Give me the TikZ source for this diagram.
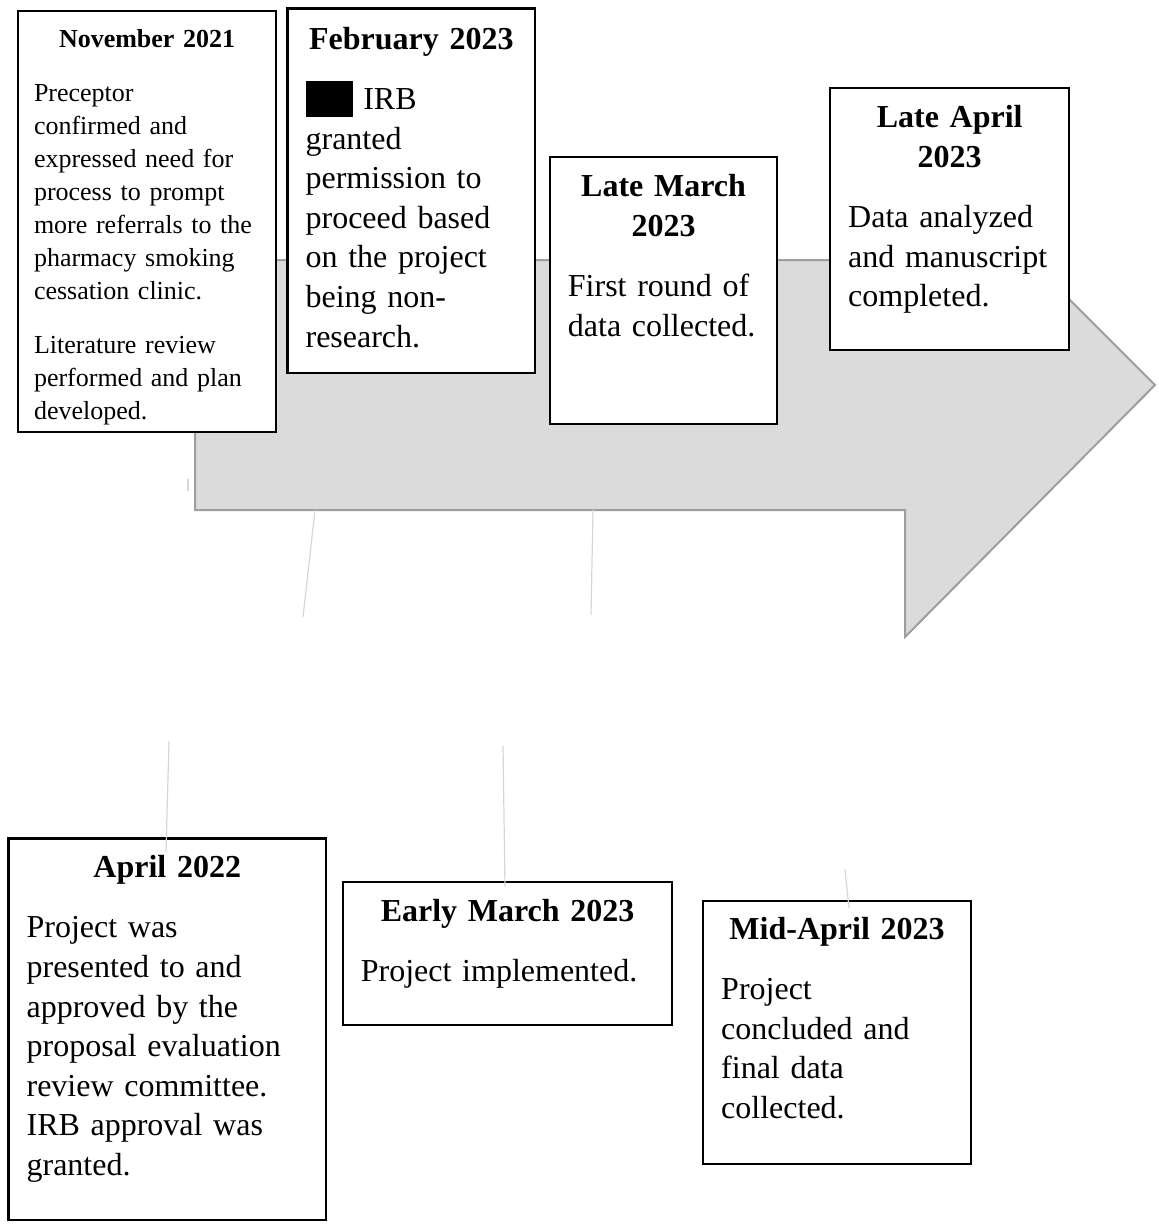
\documentclass[tikz,border=0pt]{standalone}
\usepackage{fontspec}
\setmainfont{Liberation Serif}
\usetikzlibrary{positioning}

\begin{document}
\begin{tikzpicture}[
    x=0.5pt,
    y=-0.5pt,
    font=\fontsize{16}{19.8}\selectfont,
    event/.style={draw=black, line width=1.2pt, fill=white, anchor=north west,
        inner xsep=9pt, inner ysep=0pt, align=left},
    faint/.style={draw=faintline, line width=0.6pt}
]

\colorlet{arrowfill}{black!14}
\colorlet{arrowline}{black!38}
\colorlet{faintline}{black!16}

\useasboundingbox (0,0) rectangle (1159,1226);

% Timeline arrow sits behind all the event boxes.
\draw[fill=arrowfill, draw=arrowline, line width=1pt]
    (195,260) -- (905,260) -- (905,135) -- (1155,385) --
    (905,637) -- (905,510) -- (195,510) -- cycle;

% Loose guide lines below the arrow.
\coordinate (tickA) at (188,479);
\coordinate (tickB) at (188,491);
\coordinate (gapA1) at (315,510);
\coordinate (gapA2) at (303,617);
\coordinate (gapB1) at (593,510);
\coordinate (gapB2) at (591,615);
\foreach \from/\to in {tickA/tickB, gapA1/gapA2, gapB1/gapB2}
    \draw[faint] (\from) -- (\to);

% Events above the arrow.
\node[event, inner xsep=8pt, text width=113.1pt, text height=18.35pt, text depth=192.15pt,
      font=\fontsize{13}{16.5}\selectfont] (nov21) at (16.8,10)
    {{\centering\bfseries November 2021\par}\vspace{10.15pt}
     Preceptor\\ confirmed and\\ expressed need for\\ process to prompt\\
     more referrals to the\\ pharmacy smoking\\ cessation clinic.\par\vspace{10.8pt}
     Literature review\\ performed and plan\\ developed.};

\node[event, text width=105.8pt, text height=20.5pt, text depth=161.85pt] (feb23) at (286.4,7.3)
    {{\centering\bfseries February 2023\par}\vspace{10.2pt}
     \rule[-3.7pt]{23.5pt}{18.2pt} IRB\\ granted\\ permission to\\ proceed based\\
     on the project\\ being non-\\ research.};

\node[event, text width=95.65pt, text height=20pt, text depth=113.65pt] (latemar23) at (548.7,155.7)
    {{\centering\bfseries Late March\\ 2023\par}\vspace{10.2pt}
     First round of\\ data collected.};

\node[event, text width=101.5pt, text height=20pt, text depth=111.15pt] (lateapr23) at (829,86.7)
    {{\centering\bfseries Late April\\ 2023\par}\vspace{10.2pt}
     Data analyzed\\ and manuscript\\ completed.};

% Events below the arrow.
\node[event, text width=140.65pt, text height=19.7pt, text depth=171.15pt] (apr22) at (7.4,837.3)
    {{\centering\bfseries April 2022\par}\vspace{10.2pt}
     Project was\\ presented to and\\ approved by the\\ proposal evaluation\\
     review committee.\\ IRB approval was\\ granted.};

\node[event, text width=146.65pt, text height=19.65pt, text depth=52pt] (earlymar23) at (341.7,880.7)
    {{\centering\bfseries Early March 2023\par}\vspace{10.2pt}
     Project implemented.};

\node[event, text width=115.8pt, text height=19.15pt, text depth=112.2pt] (midapr23) at (702,900)
    {{\centering\bfseries Mid-April 2023\par}\vspace{10.2pt}
     Project\\ concluded and\\ final data\\ collected.};

% Guide lines that run into the lower boxes.
\coordinate (dropA1) at (169,741);
\coordinate (dropA2) at (166,852);
\coordinate (dropB1) at (503,746);
\coordinate (dropB2) at (505,887);
\coordinate (dropC1) at (845,869);
\coordinate (dropC2) at (849,908);
\foreach \from/\to in {dropA1/dropA2, dropB1/dropB2, dropC1/dropC2}
    \draw[faint] (\from) -- (\to);

\end{tikzpicture}
\end{document}
